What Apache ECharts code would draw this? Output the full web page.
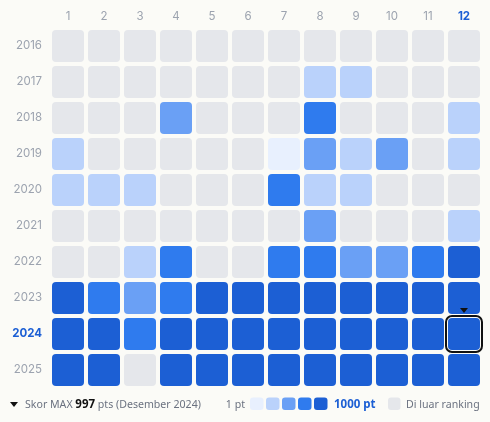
<!DOCTYPE html>
<html>
<head>
<meta charset="utf-8">
<style>
	html, body { margin: 0; padding: 0; background: #FBFBF7; }
	#chart { width: 490px; height: 422px; }
</style>
<script src="https://cdn.jsdelivr.net/npm/echarts@6/dist/echarts.min.js"></script>
</head>
<body>
<div id="chart"></div>
<script>
	var months = ['1', '2', '3', '4', '5', '6', '7', '8', '9', '10', '11', '12'];
	var years = ['2016', '2017', '2018', '2019', '2020', '2021', '2022', '2023', '2024', '2025'];

	// colour step per month, 0 = outside the ranking
	var y2016 = [0, 0, 0, 0, 0, 0, 0, 0, 0, 0, 0, 0];
	var y2017 = [0, 0, 0, 0, 0, 0, 0, 2, 2, 0, 0, 0];
	var y2018 = [0, 0, 0, 3, 0, 0, 0, 4, 0, 0, 0, 2];
	var y2019 = [2, 0, 0, 0, 0, 0, 1, 3, 2, 3, 0, 2];
	var y2020 = [2, 2, 2, 0, 0, 0, 4, 2, 2, 0, 0, 0];
	var y2021 = [0, 0, 0, 0, 0, 0, 0, 3, 0, 0, 0, 2];
	var y2022 = [0, 0, 2, 4, 0, 0, 4, 4, 3, 3, 4, 5];
	var y2023 = [5, 4, 3, 4, 5, 5, 5, 5, 5, 5, 5, 5];
	var y2024 = [5, 5, 4, 5, 5, 5, 5, 5, 5, 5, 5, 5];
	var y2025 = [5, 5, 0, 5, 5, 5, 5, 5, 5, 5, 5, 5];
	var rows = [y2016, y2017, y2018, y2019, y2020, y2021, y2022, y2023, y2024, y2025];

	var stepColors = ['#E5E7EB', '#E8F0FE', '#BAD2FB', '#6AA0F5', '#2F7BEE', '#1C5FD4'];
	var peakYear = '2024';
	var peakMonth = '12';

	var cells = [];
	rows.forEach(function (row, r) {
		row.forEach(function (step, m) {
			cells.push([m, r, step]);
		});
	});

	var tickFont = 'Inter, sans-serif';
	var noteFont = '"Noto Sans", sans-serif';
	var chart = echarts.init(document.getElementById('chart'));

	function renderCell(params, api) {
		var pos = api.coord([api.value(0), api.value(1)]);
		var band = api.size([1, 0])[0];
		var side = band - 4;
		var x = pos[0] - side / 2;
		var y = pos[1] - side / 2;
		var children = [{
			type: 'rect',
			shape: { x: x, y: y, width: side, height: side, r: 4 },
			style: { fill: stepColors[api.value(2)] }
		}];
		// selected month gets a black frame and a small marker on top
		if (months[api.value(0)] === peakMonth && years[api.value(1)] === peakYear) {
			children.push({
				type: 'rect',
				shape: { x: x - 2, y: y - 2, width: side + 4, height: side + 4, r: 6 },
				style: { fill: 'none', stroke: '#111111', lineWidth: 2 }
			});
			children.push({
				type: 'polygon',
				shape: { points: [[pos[0] - 4, y - 10], [pos[0] + 4, y - 10], [pos[0], y - 5]] },
				style: { fill: '#111111' }
			});
		}
		return { type: 'group', children: children };
	}

	var option = {
		animation: false,
		backgroundColor: '#FBFBF7',
		textStyle: { fontFamily: tickFont },
		grid: { left: 50, top: 28, width: 432, height: 360 },
		xAxis: {
			type: 'category',
			position: 'top',
			data: months,
			axisLine: { show: false },
			axisTick: { show: false },
			splitLine: { show: false },
			axisLabel: {
				interval: 0,
				margin: 5,
				fontSize: 11.5,
				fontFamily: tickFont,
				formatter: function (v) {
					return v === peakMonth ? '{hi|' + v + '}' : v;
				},
				color: '#9CA3AF',
				rich: { hi: { color: '#1C5FD4', fontWeight: 'bold', fontSize: 11.5, fontFamily: tickFont } }
			}
		},
		yAxis: {
			type: 'category',
			inverse: true,
			data: years,
			axisLine: { show: false },
			axisTick: { show: false },
			splitLine: { show: false },
			axisLabel: {
				interval: 0,
				margin: 8,
				fontSize: 11.5,
				fontFamily: tickFont,
				formatter: function (v) {
					return v === peakYear ? '{hi|' + v + '}' : v;
				},
				color: '#9CA3AF',
				rich: { hi: { color: '#1C5FD4', fontWeight: 'bold', fontSize: 11.5, fontFamily: tickFont } }
			}
		},
		series: [{
			type: 'custom',
			renderItem: renderCell,
			encode: { x: 0, y: 1 },
			data: cells,
			clip: false,
			silent: true
		}],
		graphic: [
			// legend row under the grid
			{ type: 'polygon', shape: { points: [[10, 402], [18, 402], [14, 407]] }, style: { fill: '#111111' } },
			{
				type: 'text', x: 25, y: 405,
				style: {
					text: 'Skor MAX {b|997} pts (Desember 2024)',
					fill: '#6B7280', font: '10.6px ' + noteFont, verticalAlign: 'middle',
					rich: { b: { fill: '#111111', fontWeight: 'bold', fontSize: 11.5, fontFamily: noteFont } }
				}
			},
			{
				type: 'text', x: 245, y: 405,
				style: { text: '1 pt', fill: '#6B7280', font: '10.6px ' + noteFont, align: 'right', verticalAlign: 'middle' }
			}
		].concat(stepColors.slice(1).map(function (color, i) {
			return {
				type: 'rect',
				shape: { x: 250 + i * 16, y: 397.5, width: 13.5, height: 12.5, r: 3 },
				style: { fill: color }
			};
		})).concat([
			{
				type: 'text', x: 334, y: 405,
				style: { text: '1000 pt', fill: '#1C5FD4', font: 'bold 11.5px ' + noteFont, verticalAlign: 'middle' }
			},
			{
				type: 'rect',
				shape: { x: 388, y: 397.5, width: 12.5, height: 12.5, r: 3 },
				style: { fill: '#E5E7EB' }
			},
			{
				type: 'text', x: 406, y: 405,
				style: { text: 'Di luar ranking', fill: '#6B7280', font: '10.6px ' + noteFont, verticalAlign: 'middle' }
			}
		])
	};
	chart.setOption(option);
</script>
</body>
</html>
